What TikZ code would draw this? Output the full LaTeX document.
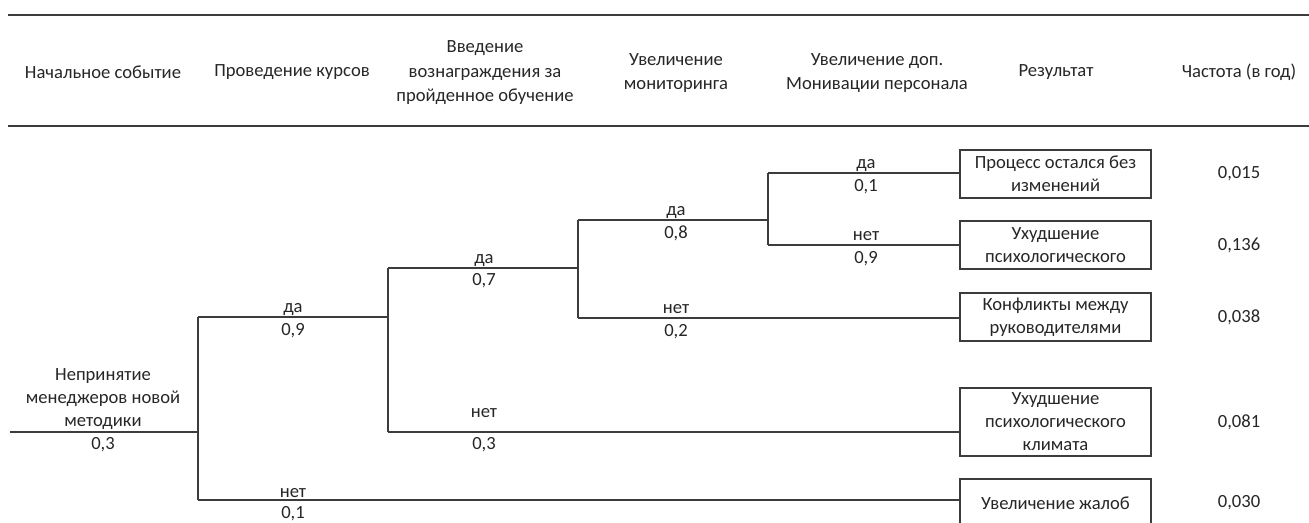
\documentclass[tikz,border=0pt]{standalone}
\usepackage{fontspec}
\setmainfont{Carlito}
\definecolor{ink}{HTML}{262626}
\definecolor{wire}{HTML}{3C3C3C}
\tikzset{
  hdr/.style={align=center, inner sep=0pt, text=ink, font=\fontsize{18.6}{24.5}\selectfont},
  lab/.style={anchor=base, inner sep=0pt, text=ink, font=\fontsize{18.6}{23}\selectfont},
  rbox/.style={draw=wire, line width=1.3pt, minimum width=191pt, minimum height=48pt,
               align=center, inner sep=0pt, text=ink, font=\fontsize{18.6}{23}\selectfont},
  freq/.style={inner sep=0pt, text=ink, font=\fontsize{18.6}{23}\selectfont},
  branch/.style={draw=wire, line width=1.3pt},
  hrule/.style={draw=wire, line width=1.8pt}
}
\begin{document}
\begin{tikzpicture}[x=1pt, y=-1pt]
\useasboundingbox (0,0) rectangle (1309,522);
\clip (0,0) rectangle (1309,522);

% table header
\coordinate (ruleTL) at (8,15);
\coordinate (ruleTR) at (1309,15);
\coordinate (ruleBL) at (8,126);
\coordinate (ruleBR) at (1309,126);
\draw[hrule] (ruleTL) -- (ruleTR);
\draw[hrule] (ruleBL) -- (ruleBR);

\node[hdr] (h1) at (103,72) {Начальное событие};
\node[hdr] (h2) at (292,72) {Проведение курсов};
\node[hdr] (h3) at (485,73) {Введение\\вознаграждения за\\пройденное обучение};
\node[hdr] (h4) at (676,73) {Увеличение\\мониторинга};
\node[hdr] (h5) at (877,73) {Увеличение доп.\\Монивации персонала};
\node[hdr] (h6) at (1056,72) {Результат};
\node[hdr] (h7) at (1239,72) {Частота (в год)};

% outcome boxes
\node[rbox] (r1) at (1055.5,174) {Процесс остался без\\изменений};
\node[rbox] (r2) at (1055.5,245) {Ухудшение\\психологического};
\node[rbox] (r3) at (1055.5,317) {Конфликты между\\руководителями};
\node[rbox, minimum height=68pt] (r4) at (1055.5,422) {Ухудшение\\психологического\\климата};
\node[rbox] (r5) at (1055.5,503) {Увеличение жалоб};

% frequencies
\node[freq] (q1) at (1239,174) {0,015};
\node[freq] (q2) at (1239,245) {0,136};
\node[freq] (q3) at (1239,317) {0,038};
\node[freq] (q4) at (1239,422) {0,081};
\node[freq] (q5) at (1239,503) {0,030};

% fork points of the event tree
\coordinate (s)   at (10,432);
\coordinate (f1)  at (198,432);
\coordinate (f1y) at (198,317);
\coordinate (f1n) at (198,500);
\coordinate (f2)  at (388,317);
\coordinate (f2y) at (388,268);
\coordinate (f2n) at (388,432);
\coordinate (f3)  at (578,268);
\coordinate (f3y) at (578,220);
\coordinate (f3n) at (578,318);
\coordinate (f4)  at (768,220);
\coordinate (f4y) at (768,173);
\coordinate (f4n) at (768,245);

\draw[branch] (s) -- (f1);
\draw[branch] (f1y) -- (f1n);
\draw[branch] (f1y) -- (f2);
\draw[branch] (f1n) -- (r5.west |- f1n);
\draw[branch] (f2y) -- (f2n);
\draw[branch] (f2y) -- (f3);
\draw[branch] (f2n) -- (r4.west |- f2n);
\draw[branch] (f3y) -- (f3n);
\draw[branch] (f3y) -- (f4);
\draw[branch] (f3n) -- (r3.west |- f3n);
\draw[branch] (f4y) -- (f4n);
\draw[branch] (f4y) -- (r1.west |- f4y);
\draw[branch] (f4n) -- (r2.west |- f4n);

% initiating event
\node[hdr, font=\fontsize{18.6}{23}\selectfont] (ev) at (103,399) {Непринятие\\менеджеров новой\\методики};
\node[lab] (p0) at (103,449) {0,3};

% branch labels
\node[lab] (a1) at (293,312) {да};
\node[lab] (b1) at (293,335) {0,9};
\node[lab] (a2) at (293,497) {нет};
\node[lab] (b2) at (293,518) {0,1};

\node[lab] (a3) at (484,263) {да};
\node[lab] (b3) at (484,285) {0,7};
\node[lab] (a4) at (484,417) {нет};
\node[lab] (b4) at (484,449) {0,3};

\node[lab] (a5) at (676,215) {да};
\node[lab] (b5) at (676,238) {0,8};
\node[lab] (a6) at (676,313) {нет};
\node[lab] (b6) at (676,336) {0,2};

\node[lab] (a7) at (866,168) {да};
\node[lab] (b7) at (866,191) {0,1};
\node[lab] (a8) at (866,240) {нет};
\node[lab] (b8) at (866,263) {0,9};
\end{tikzpicture}
\end{document}
